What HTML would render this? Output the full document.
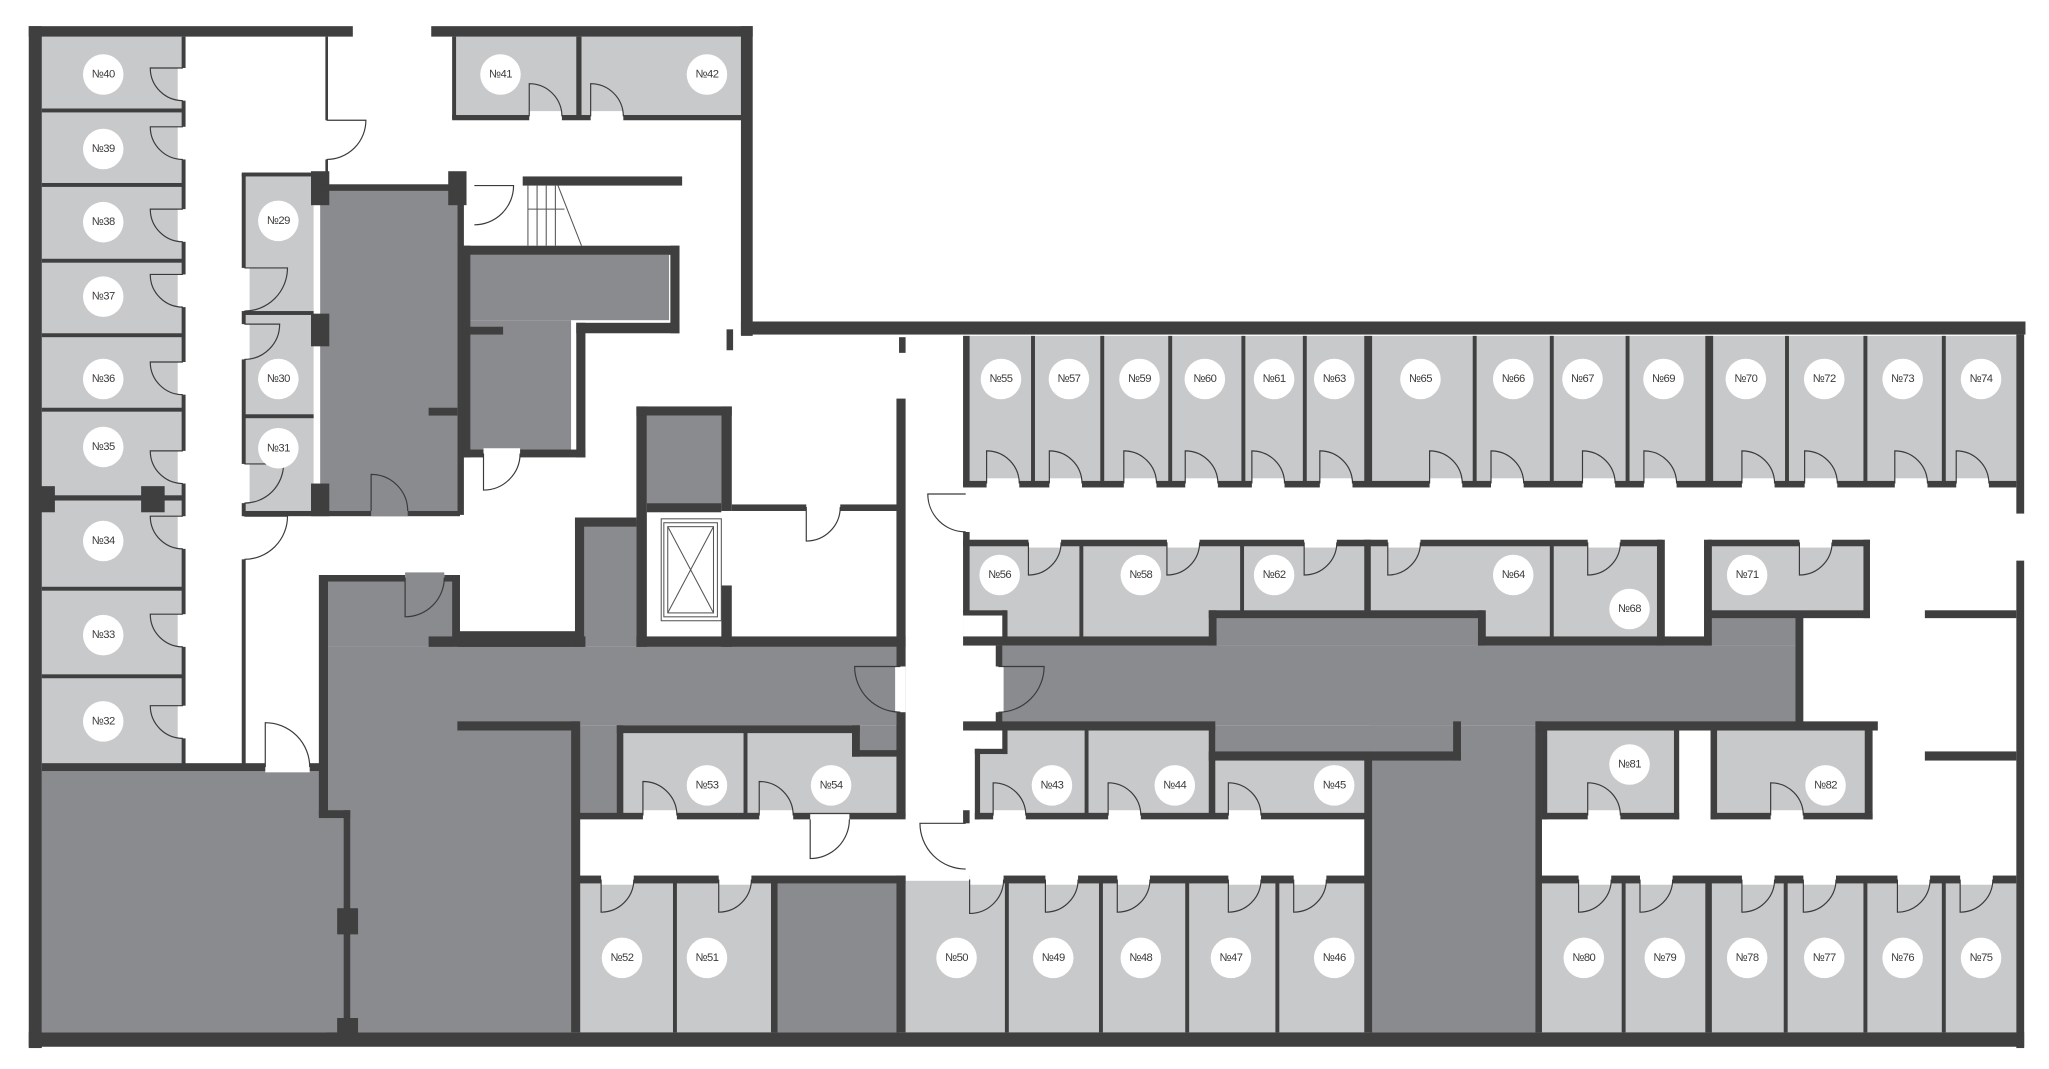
<!DOCTYPE html>
<html><head><meta charset="utf-8"><style>
html,body{margin:0;padding:0;background:#fff;}
svg{display:block;}
text{font-family:"Liberation Sans",Arial,sans-serif;font-size:8.6px;fill:#3a3a3a;text-anchor:middle;dominant-baseline:central;letter-spacing:-0.4px;}
</style></head><body>
<svg id="s" xmlns="http://www.w3.org/2000/svg" width="2049" height="1069" viewBox="0 0 1568 818">
<g id="fills">
<g fill="#c8c9cb">
<rect x="32" y="28" width="108" height="557"/>
<rect x="186" y="133" width="54" height="260"/>
<rect x="347" y="28" width="221" height="62"/>
<rect x="737" y="257" width="806" height="113"/>
<rect x="737" y="416" width="535" height="72"/>
<rect x="1307" y="416" width="121" height="53"/>
<rect x="475" y="558" width="213" height="66"/>
<rect x="748" y="558" width="298" height="66"/>
<rect x="1180" y="558" width="103" height="66"/>
<rect x="1311" y="558" width="120" height="66"/>
<rect x="443" y="674" width="149" height="116"/>
<rect x="692" y="674" width="354" height="116"/>
<rect x="1180" y="674" width="363" height="116"/>
</g>
<g fill="#fff">
<rect x="737" y="469" width="33" height="20"/>
<rect x="748" y="558" width="22" height="17"/>
</g>
<g fill="#8a8b8e">
<rect x="32" y="589" width="233" height="201"/>
<rect x="250" y="495" width="187" height="295"/>
<rect x="250" y="495" width="436" height="60"/>
<rect x="245" y="442" width="102" height="53"/>
<rect x="443" y="398" width="44" height="97"/>
<rect x="443" y="555" width="32" height="70"/>
<rect x="655" y="555" width="33" height="22"/>
<rect x="592" y="674" width="96" height="116"/>
<rect x="765" y="494" width="610" height="61"/>
<rect x="931" y="470" width="200" height="24"/>
<rect x="1309" y="470" width="66" height="24"/>
<rect x="930" y="555" width="182" height="22"/>
<rect x="1048" y="555" width="130" height="235"/>
<rect x="495" y="318" width="57" height="67"/>
<rect x="245" y="142" width="105" height="251"/>
<rect x="360" y="195" width="152" height="50"/>
<rect x="360" y="245" width="77" height="100"/>
</g>
</g>
<g id="walls" fill="#3f3f3f">
<rect x="22" y="20" width="10" height="782"/>
<rect x="22" y="20" width="248" height="8"/>
<rect x="330" y="20" width="246" height="8"/>
<rect x="567" y="20" width="9" height="237"/>
<rect x="567" y="246" width="983" height="10"/>
<rect x="1543" y="256" width="6" height="137"/>
<rect x="1543" y="429" width="6" height="373"/>
<rect x="22" y="790" width="1527" height="11"/>
<!-- 41/42 -->
<rect x="346" y="28" width="3" height="63"/>
<rect x="346" y="88" width="222" height="4"/>
<rect x="441" y="28" width="4" height="63"/>
<!-- left column -->
<rect x="139" y="28" width="3" height="557"/>
<rect x="32" y="83" width="108" height="3"/>
<rect x="32" y="140" width="108" height="3"/>
<rect x="32" y="198" width="108" height="3"/>
<rect x="32" y="255" width="108" height="3"/>
<rect x="32" y="312" width="108" height="3"/>
<rect x="32" y="379" width="108" height="4"/>
<rect x="32" y="449" width="108" height="3"/>
<rect x="32" y="516" width="108" height="3"/>
<rect x="28" y="372" width="14" height="20"/>
<rect x="108" y="372" width="18" height="20"/>
<rect x="32" y="584" width="218" height="6"/>
<rect x="185" y="133" width="3" height="452"/>
<rect x="185" y="132" width="60" height="3"/>
<rect x="186" y="238" width="54" height="3"/>
<rect x="186" y="317" width="54" height="3"/>
<rect x="238" y="131" width="14" height="26"/>
<rect x="238" y="240" width="14" height="25"/>
<rect x="238" y="370" width="14" height="25"/>
<rect x="186" y="391" width="166" height="4"/>
<rect x="249" y="28" width="2" height="105"/>
<rect x="245" y="141" width="105" height="5"/>
<rect x="350" y="142" width="5" height="252"/>
<rect x="343" y="131" width="14" height="26"/>
<rect x="328" y="312" width="22" height="6"/>
<rect x="352" y="188" width="168" height="7"/>
<rect x="513" y="188" width="7" height="67"/>
<rect x="441" y="247" width="79" height="8"/>
<rect x="441" y="247" width="7" height="103"/>
<rect x="354" y="188" width="6" height="162"/>
<rect x="354" y="344" width="94" height="6"/>
<rect x="357" y="250" width="28" height="6"/>
<rect x="400" y="135" width="122" height="7"/>
<rect x="245" y="440" width="65" height="5"/>
<rect x="340" y="440" width="12" height="5"/>
<rect x="346" y="440" width="6" height="50"/>
<rect x="244" y="440" width="7" height="184"/>
<rect x="244" y="620" width="24" height="6"/>
<rect x="263" y="620" width="5" height="170"/>
<rect x="258" y="695" width="16" height="20"/>
<rect x="258" y="779" width="16" height="18"/>
<rect x="328" y="487" width="120" height="8"/>
<rect x="350" y="483" width="92" height="12"/>
<rect x="350" y="552" width="93" height="7"/>
<rect x="437" y="552" width="7" height="238"/>
<rect x="440" y="396" width="7" height="99"/>
<rect x="440" y="396" width="47" height="7"/>
<rect x="487" y="311" width="8" height="184"/>
<rect x="487" y="311" width="73" height="7"/>
<rect x="552" y="311" width="8" height="80"/>
<rect x="552" y="448" width="8" height="47"/>
<rect x="495" y="385" width="57" height="7"/>
<rect x="487" y="487" width="206" height="8"/>
<rect x="560" y="386" width="128" height="5"/>
<rect x="686" y="305" width="7" height="320"/>
<rect x="556" y="252" width="5" height="16"/>
<rect x="688" y="258" width="5" height="12"/>
<rect x="472" y="555" width="186" height="6"/>
<rect x="472" y="555" width="5" height="70"/>
<rect x="569" y="558" width="3" height="66"/>
<rect x="652" y="555" width="6" height="24"/>
<rect x="652" y="574" width="36" height="5"/>
<rect x="443" y="622" width="250" height="5"/>
<rect x="443" y="670" width="250" height="6"/>
<rect x="515" y="674" width="3" height="116"/>
<rect x="590" y="674" width="5" height="116"/>
<rect x="686" y="670" width="7" height="120"/>
<rect x="737" y="257" width="5" height="115"/>
<rect x="737" y="407" width="5" height="62"/>
<rect x="737" y="467" width="33" height="4"/>
<rect x="767" y="467" width="4" height="24"/>
<rect x="737" y="487" width="194" height="7"/>
<rect x="762" y="494" width="5" height="61"/>
<rect x="737" y="552" width="193" height="7"/>
<rect x="767" y="555" width="4" height="22"/>
<rect x="746" y="573" width="25" height="4"/>
<rect x="746" y="573" width="4" height="54"/>
<rect x="737" y="620" width="5" height="14"/>
<rect x="746" y="622" width="300" height="5"/>
<rect x="830" y="558" width="3" height="66"/>
<rect x="925" y="555" width="5" height="70"/>
<rect x="925" y="575" width="193" height="7"/>
<rect x="1112" y="552" width="6" height="30"/>
<rect x="1044" y="577" width="6" height="213"/>
<rect x="1175" y="552" width="5" height="238"/>
<rect x="1175" y="552" width="262" height="7"/>
<rect x="1180" y="558" width="4" height="69"/>
<rect x="1281" y="558" width="4" height="69"/>
<rect x="1309" y="558" width="5" height="69"/>
<rect x="1427" y="558" width="6" height="69"/>
<rect x="1180" y="622" width="105" height="5"/>
<rect x="1309" y="622" width="124" height="5"/>
<rect x="1473" y="467" width="70" height="6"/>
<rect x="1473" y="575" width="70" height="7"/>
<rect x="737" y="368" width="806" height="5"/>
<rect x="789" y="257" width="3" height="113"/>
<rect x="842" y="257" width="3" height="113"/>
<rect x="894" y="257" width="3" height="113"/>
<rect x="950" y="257" width="3" height="113"/>
<rect x="997" y="257" width="3" height="113"/>
<rect x="1044" y="257" width="6" height="113"/>
<rect x="1127" y="257" width="3" height="113"/>
<rect x="1186" y="257" width="3" height="113"/>
<rect x="1244" y="257" width="3" height="113"/>
<rect x="1305" y="257" width="6" height="113"/>
<rect x="1366" y="257" width="3" height="113"/>
<rect x="1426" y="257" width="3" height="113"/>
<rect x="1486" y="257" width="3" height="113"/>
<rect x="737" y="413" width="535" height="5"/>
<rect x="1307" y="413" width="124" height="5"/>
<rect x="826" y="416" width="3" height="72"/>
<rect x="949" y="416" width="3" height="56"/>
<rect x="1044" y="413" width="5" height="57"/>
<rect x="1186" y="416" width="3" height="72"/>
<rect x="1268" y="413" width="6" height="81"/>
<rect x="1304" y="413" width="6" height="81"/>
<rect x="1426" y="413" width="5" height="60"/>
<rect x="1307" y="467" width="124" height="6"/>
<rect x="925" y="467" width="6" height="27"/>
<rect x="925" y="467" width="210" height="6"/>
<rect x="1131" y="467" width="6" height="27"/>
<rect x="1131" y="487" width="178" height="7"/>
<rect x="1374" y="470" width="6" height="85"/>
<rect x="742" y="670" width="304" height="6"/>
<rect x="769" y="674" width="3" height="116"/>
<rect x="841" y="674" width="3" height="116"/>
<rect x="907" y="674" width="3" height="116"/>
<rect x="976" y="674" width="3" height="116"/>
<rect x="1178" y="670" width="365" height="6"/>
<rect x="1241" y="674" width="3" height="116"/>
<rect x="1305" y="674" width="5" height="116"/>
<rect x="1365" y="674" width="3" height="116"/>
<rect x="1426" y="674" width="3" height="116"/>
<rect x="1486" y="674" width="3" height="116"/>
</g>
<g id="doors" fill="none" stroke="#3a3a3a" stroke-width="0.9"></g>
<g stroke="#555" stroke-width="0.8" fill="none">
<path d="M404 142V188M411 142V188M418 142V188M425 142V188M404 160H432M427 142L445 188"/>
<rect x="506" y="397" width="46" height="78"/>
<rect x="508" y="400" width="41" height="72"/>
<rect x="511" y="403" width="35" height="66"/>
<path d="M511 403L546 469M546 403L511 469"/>
</g>
<g id="circles" fill="#fff">
<circle cx="79" cy="57" r="15.5"/><circle cx="79" cy="114" r="15.5"/><circle cx="79" cy="170" r="15.5"/><circle cx="79" cy="227" r="15.5"/><circle cx="79" cy="290" r="15.5"/><circle cx="79" cy="342" r="15.5"/><circle cx="79" cy="414" r="15.5"/><circle cx="79" cy="486" r="15.5"/><circle cx="79" cy="552" r="15.5"/>
<circle cx="213" cy="169" r="15.5"/><circle cx="213" cy="290" r="15.5"/><circle cx="213" cy="343" r="15.5"/>
<circle cx="383" cy="57" r="15.5"/><circle cx="541" cy="57" r="15.5"/>
<circle cx="766" cy="290" r="15.5"/><circle cx="818" cy="290" r="15.5"/><circle cx="872" cy="290" r="15.5"/><circle cx="922" cy="290" r="15.5"/><circle cx="975" cy="290" r="15.5"/><circle cx="1021" cy="290" r="15.5"/><circle cx="1087" cy="290" r="15.5"/><circle cx="1158" cy="290" r="15.5"/><circle cx="1211" cy="290" r="15.5"/><circle cx="1273" cy="290" r="15.5"/><circle cx="1336" cy="290" r="15.5"/><circle cx="1396" cy="290" r="15.5"/><circle cx="1456" cy="290" r="15.5"/><circle cx="1516" cy="290" r="15.5"/>
<circle cx="765" cy="440" r="15.5"/><circle cx="873" cy="440" r="15.5"/><circle cx="975" cy="440" r="15.5"/><circle cx="1158" cy="440" r="15.5"/><circle cx="1247" cy="466" r="15.5"/><circle cx="1337" cy="440" r="15.5"/>
<circle cx="541" cy="601" r="15.5"/><circle cx="636" cy="601" r="15.5"/><circle cx="805" cy="601" r="15.5"/><circle cx="899" cy="601" r="15.5"/><circle cx="1021" cy="601" r="15.5"/><circle cx="1247" cy="585" r="15.5"/><circle cx="1397" cy="601" r="15.5"/>
<circle cx="476" cy="733" r="15.5"/><circle cx="541" cy="733" r="15.5"/><circle cx="732" cy="733" r="15.5"/><circle cx="806" cy="733" r="15.5"/><circle cx="873" cy="733" r="15.5"/><circle cx="942" cy="733" r="15.5"/><circle cx="1021" cy="733" r="15.5"/><circle cx="1212" cy="733" r="15.5"/><circle cx="1274" cy="733" r="15.5"/><circle cx="1337" cy="733" r="15.5"/><circle cx="1396" cy="733" r="15.5"/><circle cx="1456" cy="733" r="15.5"/><circle cx="1516" cy="733" r="15.5"/>
</g>
<g id="labels">
<text x="79" y="57">№40</text><text x="79" y="114">№39</text><text x="79" y="170">№38</text><text x="79" y="227">№37</text><text x="79" y="290">№36</text><text x="79" y="342">№35</text><text x="79" y="414">№34</text><text x="79" y="486">№33</text><text x="79" y="552">№32</text>
<text x="213" y="169">№29</text><text x="213" y="290">№30</text><text x="213" y="343">№31</text>
<text x="383" y="57">№41</text><text x="541" y="57">№42</text>
<text x="766" y="290">№55</text><text x="818" y="290">№57</text><text x="872" y="290">№59</text><text x="922" y="290">№60</text><text x="975" y="290">№61</text><text x="1021" y="290">№63</text><text x="1087" y="290">№65</text><text x="1158" y="290">№66</text><text x="1211" y="290">№67</text><text x="1273" y="290">№69</text><text x="1336" y="290">№70</text><text x="1396" y="290">№72</text><text x="1456" y="290">№73</text><text x="1516" y="290">№74</text>
<text x="765" y="440">№56</text><text x="873" y="440">№58</text><text x="975" y="440">№62</text><text x="1158" y="440">№64</text><text x="1247" y="466">№68</text><text x="1337" y="440">№71</text>
<text x="541" y="601">№53</text><text x="636" y="601">№54</text><text x="805" y="601">№43</text><text x="899" y="601">№44</text><text x="1021" y="601">№45</text><text x="1247" y="585">№81</text><text x="1397" y="601">№82</text>
<text x="476" y="733">№52</text><text x="541" y="733">№51</text><text x="732" y="733">№50</text><text x="806" y="733">№49</text><text x="873" y="733">№48</text><text x="942" y="733">№47</text><text x="1021" y="733">№46</text><text x="1212" y="733">№80</text><text x="1274" y="733">№79</text><text x="1337" y="733">№78</text><text x="1396" y="733">№77</text><text x="1456" y="733">№76</text><text x="1516" y="733">№75</text>
</g>
</svg>
<script>
(function(){
var NS="http://www.w3.org/2000/svg";
var g=document.getElementById("doors");
var walls=document.getElementById("walls");
function gap(x,y,w,h,c){var r=document.createElementNS(NS,"rect");r.setAttribute("x",x);r.setAttribute("y",y);r.setAttribute("width",w);r.setAttribute("height",h);r.setAttribute("fill",c||"#fff");walls.appendChild(r);}
function path(d){var p=document.createElementNS(NS,"path");p.setAttribute("d",d);g.appendChild(p);}
function H(y,a,b,d,c){var r=b-a;gap(a,y-4,r,8,c);
 if(d<0)path("M"+a+" "+y+"V"+(y-r)+"A"+r+" "+r+" 0 0 1 "+b+" "+y);
 else path("M"+a+" "+y+"V"+(y+r)+"A"+r+" "+r+" 0 0 0 "+b+" "+y);}
function V(x,a,b,d,c){var r=b-a;gap(x-4,a,8,r,c);
 if(d<0)path("M"+x+" "+a+"H"+(x-r)+"A"+r+" "+r+" 0 0 0 "+x+" "+b);
 else path("M"+x+" "+a+"H"+(x+r)+"A"+r+" "+r+" 0 0 1 "+x+" "+b);}
[[755,780],[803,828],[860,885],[907,932],[958,983],[1010,1035],[1094,1119],[1141,1166],[1211,1236],[1258,1283],[1333,1358],[1381,1406],[1450,1475],[1497,1522]].forEach(function(p){H(370,p[0],p[1],-1);});
H(89,405,430,-1);H(89,452,477,-1);
[[787,812],[893,918],[998,1023],[1062,1087],[1215,1240],[1377,1402]].forEach(function(p){H(415,p[0],p[1],1);});
[[492,518],[581,607],[760,785],[848,873],[940,965],[1215,1240],[1355,1380]].forEach(function(p){H(624,p[0],p[1],-1);});
[[460,485],[550,575],[742,768],[800,825],[855,880],[940,965],[990,1015],[1208,1233],[1255,1280],[1333,1358],[1380,1405],[1452,1477],[1500,1525]].forEach(function(p){H(673,p[0],p[1],1);});
H(391,284,312,-1,"#8a8b8e");H(347,370,398,1);H(388,617,643,1);H(587,203,237,-1);H(442,310,340,1,"#8a8b8e");
[[52,77],[97,122],[160,185],[210,235],[277,302],[345,370],[395,420],[470,495],[540,565]].forEach(function(p){V(140,p[0],p[1],-1);});
[[205,238],[248,275],[355,385]].forEach(function(p){V(187,p[0],p[1],1);});
V(187,395,428,1);V(250,92,122,1);V(739,378,407,-1);V(739,630,665,-1);V(689,510,545,-1);V(764,510,545,1);V(363,142,172,1);
H(627,620,650,1);
})();
</script>
</body></html>
